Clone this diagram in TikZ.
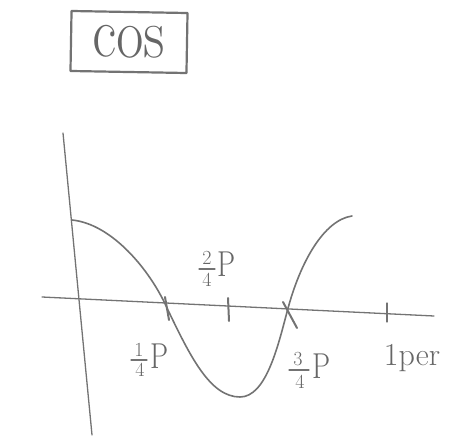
\documentclass[tikz,border=0pt]{standalone}
\begin{document}
\begin{tikzpicture}[x=1pt,y=-1pt,
  pencil/.style={draw=black!55, line cap=round, line join=round},
  axisline/.style={pencil, line width=1.3pt},
  curveline/.style={pencil, line width=1.6pt},
  tickmark/.style={pencil, line width=2pt},
  fracrule/.style={pencil, line width=1.2pt},
  lbl/.style={text=black!60, inner sep=0pt},
  digit/.style={lbl, font=\fontsize{20}{20}\selectfont},
  bigp/.style={lbl, font=\fontsize{36}{36}\selectfont},
  titlebox/.style={pencil, line width=2.2pt, minimum width=116pt, minimum height=60pt, text=black!60, font=\fontsize{62}{64}\selectfont, inner sep=0pt}]
\useasboundingbox (0,0) rectangle (453,439);
% title box
\node[titlebox, rotate=-1] (title) at (129,42) {\scalebox{0.95}[1.15]{cos}};
% axes
\coordinate (ytop) at (63,133);
\coordinate (ybot) at (92,435);
\coordinate (xleft) at (42,297);
\coordinate (xright) at (434,316);
\draw[axisline] (ytop) -- (ybot);
\draw[axisline] (xleft) -- (xright);
% curve
\coordinate (c0) at (72,220);
\coordinate (c1) at (167,308);
\coordinate (c2) at (240,397);
\coordinate (c3) at (287,312);
\coordinate (c4) at (352,216);
\draw[curveline] (c0) .. controls (112,224) and (150,270) .. (c1)
  .. controls (190,356) and (210,397) .. (c2)
  .. controls (266,397) and (278,346) .. (c3)
  .. controls (300,262) and (324,220) .. (c4);
% ticks
\coordinate (t1a) at (165,297); \coordinate (t1b) at (169,320);
\coordinate (t2a) at (228,298); \coordinate (t2b) at (229,321);
\coordinate (t3a) at (283,302); \coordinate (t3b) at (297,328);
\coordinate (t4a) at (387,303); \coordinate (t4b) at (387,322);
\draw[tickmark] (t1a) -- (t1b);
\draw[tickmark] (t2a) -- (t2b);
\draw[tickmark] (t3a) -- (t3b);
\draw[tickmark, line width=1.3pt] (t4a) -- (t4b);
% label 1/4 P
\node[digit] (n1) at (139,350) {1};
\coordinate (r1a) at (131,360); \coordinate (r1b) at (147,360);
\draw[fracrule] (r1a) -- (r1b);
\node[digit] (d1) at (140,370) {4};
\node[bigp] (p1) at (160,356) {\scalebox{0.8}[1]{P}};
% label 2/4 P
\node[digit] (n2) at (207,258) {2};
\coordinate (r2a) at (199,269); \coordinate (r2b) at (215,269);
\draw[fracrule] (r2a) -- (r2b);
\node[digit] (d2) at (207,280) {4};
\node[bigp] (p2) at (227,264) {\scalebox{0.8}[1]{P}};
% label 3/4 P
\node[digit] (n3) at (298,359) {3};
\coordinate (r3a) at (289,370); \coordinate (r3b) at (309,370);
\draw[fracrule] (r3a) -- (r3b);
\node[digit] (d3) at (300,382) {4};
\node[bigp] (p3) at (322,366) {\scalebox{0.8}[1]{P}};
% label 1per
\node[lbl, font=\fontsize{32}{34}\selectfont] (l4) at (412,358) {1per};
\end{tikzpicture}
\end{document}
